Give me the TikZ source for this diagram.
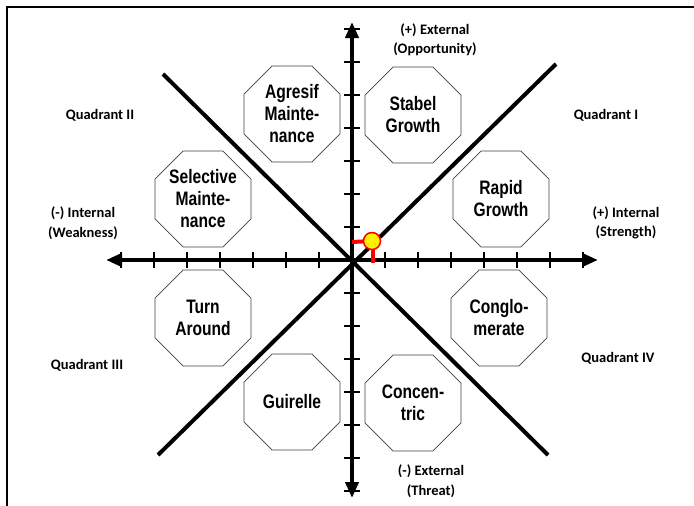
\documentclass[tikz,border=0pt]{standalone}
\usepackage{fontspec}
\setmainfont{Carlito}
\newfontfamily\octfont[FakeStretch=0.8]{Liberation Sans}
\usetikzlibrary{shapes.geometric,arrows.meta}
\begin{document}
\begin{tikzpicture}[x=1pt,y=-1pt,
  axis/.style={line width=4.5pt,-{Triangle[length=16pt,width=13pt]}},
  diag/.style={line width=4pt},
  tick/.style={line width=1.8pt},
  oct/.style={draw=black!75,line width=0.7pt,fill=white,regular polygon,regular polygon sides=8,
    minimum size=104pt,inner sep=0pt,align=center,
    font=\octfont\bfseries\fontsize{19.5pt}{22pt}\selectfont},
  lbl/.style={align=center,font=\bfseries\fontsize{14.5pt}{19.5pt}\selectfont,inner sep=0pt},
  projline/.style={red,line width=4pt},
]
\useasboundingbox (0,0) rectangle (694,506);
% frame
\draw[line width=2pt] (7,506) -- (7,7) -- (694,7);

% axes and diagonals
\coordinate (O) at (352,260);
\coordinate (L) at (106,260);
\coordinate (R) at (598,260);
\coordinate (T) at (352,22);
\coordinate (B) at (352,498);
\coordinate (UL) at (163,74);
\coordinate (LR) at (548,455);
\coordinate (UR) at (556,64);
\coordinate (LL) at (158,455);
\draw[diag] (UL) -- (LR);
\draw[diag] (UR) -- (LL);
\draw[axis] (O) -- (L);
\draw[axis] (O) -- (R);
\draw[axis] (O) -- (T);
\draw[axis] (O) -- (B);

% tick marks
\foreach \k in {1,...,7} {
  \draw[tick] (352+33*\k,252) -- (352+33*\k,268);
  \draw[tick] (352-33*\k,252) -- (352-33*\k,268);
  \draw[tick] (344,260-33*\k) -- (360,260-33*\k);
  \draw[tick] (344,260+33*\k) -- (360,260+33*\k);
}

% strategy octagons
\node[oct] (agr) at (292,114) {Agresif\\Mainte-\\nance};
\node[oct] (sta) at (413,115) {Stabel\\Growth};
\node[oct] (sel) at (203,199) {Selective\\Mainte-\\nance};
\node[oct] (rap) at (501,199) {Rapid\\Growth};
\node[oct] (tur) at (203,318) {Turn\\Around};
\node[oct] (con) at (499,318) {Conglo-\\merate};
\node[oct] (gui) at (292,402) {Guirelle};
\node[oct] (cnc) at (413,403) {Concen-\\tric};

% position marker
\coordinate (P) at (372,241);
\coordinate (Px) at (352,242);
\coordinate (Py) at (373,263);
\draw[projline] (Px) -- (P);
\draw[projline] (P -| Py) -- (Py);
\node[circle,fill=yellow,draw=red,line width=1.5pt,minimum size=17pt,inner sep=0pt] (pt) at (P) {};

% axis and quadrant labels
\node[lbl] (ext1) at (435,40) {(+) External\\(Opportunity)};
\node[lbl] (ext2) at (431,481) {(-) External\\(Threat)};
\node[lbl] (int1) at (83,223) {(-) Internal\\(Weakness)};
\node[lbl] (int2) at (626,223) {(+) Internal\\(Strength)};
\node[lbl] (q2) at (100,115) {Quadrant II};
\node[lbl] (q1) at (606,115) {Quadrant I};
\node[lbl] (q3) at (87,365) {Quadrant III};
\node[lbl] (q4) at (618,358) {Quadrant IV};
\end{tikzpicture}
\end{document}
